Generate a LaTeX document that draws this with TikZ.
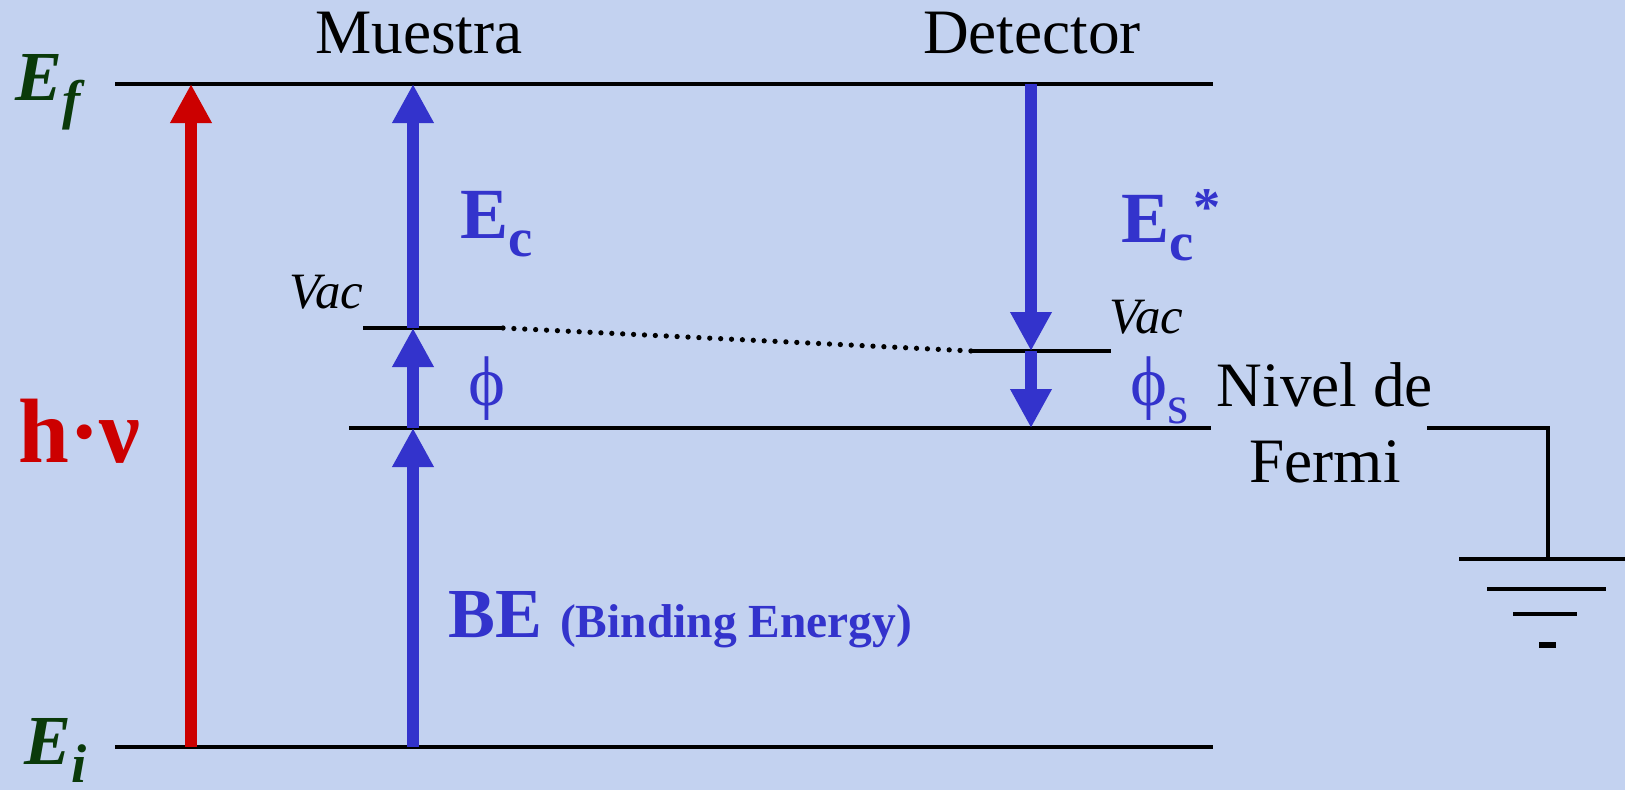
\documentclass[tikz,border=0pt]{standalone}
\usepackage{fontspec}
\setmainfont{Liberation Serif}
\usetikzlibrary{arrows.meta}
\definecolor{bgblue}{HTML}{C3D2F0}
\definecolor{arrblue}{HTML}{3333CC}
\definecolor{arrred}{HTML}{CC0000}
\definecolor{lvlgreen}{HTML}{0A3A0A}
\newcommand{\lowsub}[1]{\raisebox{-5.4pt}{\fontsize{15.5}{15.5}\selectfont #1}}

\begin{document}
\begin{tikzpicture}[
    level/.style={line width=1.3pt, black},
    earrow/.style={line width=3.6pt, arrblue},
    lbl/.style={inner sep=0pt, font=\fontsize{18}{21.5}\selectfont},
    elbl/.style={inner sep=0pt, text=lvlgreen, font=\fontsize{20}{24}\selectfont\bfseries\itshape},
    blbl/.style={inner sep=0pt, text=arrblue},
    >={Triangle[length=3.9mm, width=3.9mm]}
]

\pgfmathsetmacro{\yEf}{7.06}
\pgfmathsetmacro{\yEi}{0.43}
\pgfmathsetmacro{\yFermi}{3.62}
\pgfmathsetmacro{\yVacS}{4.62}
\pgfmathsetmacro{\yVacD}{4.39}
\pgfmathsetmacro{\xS}{4.13}
\pgfmathsetmacro{\xD}{10.31}
\pgfmathsetmacro{\xH}{1.91}

% Background
\fill[bgblue] (0,0) rectangle (16.25,7.90);
\useasboundingbox (0,0) rectangle (16.25,7.90);

% Levels
\coordinate (EfL) at (1.15,\yEf);
\coordinate (EfR) at (12.13,\yEf);
\coordinate (EiL) at (1.15,\yEi);
\coordinate (EiR) at (12.13,\yEi);
\coordinate (FermiL) at (3.49,\yFermi);
\coordinate (FermiR) at (12.11,\yFermi);
\coordinate (VacSL) at (3.63,\yVacS);
\coordinate (VacSR) at (5.03,\yVacS);
\coordinate (VacDL) at (9.72,\yVacD);
\coordinate (VacDR) at (11.11,\yVacD);
\draw[level] (EfL) -- (EfR);
\draw[level] (EiL) -- (EiR);
\draw[level] (FermiL) -- (FermiR);
\draw[level] (VacSL) -- (VacSR);
\draw[level] (VacDL) -- (VacDR);
\draw[line width=1.5pt, dash pattern=on 0pt off 3.1pt, line cap=round] (VacSR) -- (VacDL);

% Ground
\coordinate (GndTop) at (15.48,\yFermi);
\coordinate (GndBot) at (15.48,2.31);
\draw[level] (14.27,\yFermi) -- (GndTop) -- (GndBot);
\draw[level] (14.59,2.31) -- (16.25,2.31);
\draw[level] (14.87,2.01) -- (16.06,2.01);
\draw[level] (15.13,1.76) -- (15.77,1.76);
\draw[line width=1.8pt] (15.39,1.45) -- (15.56,1.45);

% Photon
\coordinate (hEi) at (\xH,\yEi);
\coordinate (hEf) at (\xH,\yEf);
\draw[->, line width=3.3pt, arrred] (hEi) -- (hEf);

% Sample
\coordinate (sEi) at (\xS,\yEi);
\coordinate (sFermi) at (\xS,\yFermi);
\coordinate (sVac) at (\xS,\yVacS);
\coordinate (sEf) at (\xS,\yEf);
\draw[->, earrow] (sEi) -- (sFermi);
\draw[->, earrow] (sFermi) -- (sVac);
\draw[->, earrow] (sVac) -- (sEf);

% Detector
\coordinate (dEf) at (\xD,\yEf);
\coordinate (dVac) at (\xD,\yVacD);
\coordinate (dFermi) at (\xD,\yFermi);
\draw[->, earrow] (dEf) -- (dVac);
\draw[->, earrow] (dVac) -- (dFermi);

% Labels
\node[lbl, anchor=base] (muestra) at (4.19,7.37) {Muestra};
\node[lbl, anchor=base] (detector) at (10.32,7.37) {Detector};
\node[lbl, align=center, anchor=north] (fermi) at (13.25,4.28) {Nivel de\\Fermi};
\node[elbl, anchor=base west] (ef) at (0.15,6.90) {E\lowsub{f}};
\node[elbl, anchor=base west] (ei) at (0.24,0.26) {E\lowsub{i}};
\node[inner sep=0pt, anchor=base west, text=arrred, font=\fontsize{26}{30}\selectfont\bfseries] (hnu) at (0.18,3.28) {h·ν};
\node[blbl, anchor=base west, font=\fontsize{20.5}{24}\selectfont\bfseries] (ec) at (4.60,5.52) {E\lowsub{c}};
\node[blbl, anchor=base west, font=\fontsize{20.5}{24}\selectfont\bfseries] (ecs) at (11.21,5.48) {E\lowsub{c}\raisebox{4.8pt}{\fontsize{15.5}{15.5}\selectfont *}};
\node[inner sep=0pt, anchor=base east, font=\fontsize{14.5}{17}\selectfont\itshape] (vacs) at (3.64,4.82) {Vac};
\node[inner sep=0pt, anchor=base west, font=\fontsize{14.5}{17}\selectfont\itshape] (vacd) at (11.09,4.57) {Vac};
\node[blbl, anchor=base west, font=\fontsize{20}{24}\selectfont] (phi) at (4.68,3.85) {ϕ};
\node[blbl, anchor=base west, font=\fontsize{20}{24}\selectfont] (phis) at (11.30,3.85) {ϕ\lowsub{s}};
\node[blbl, anchor=base west, font=\fontsize{20}{24}\selectfont\bfseries] (be) at (4.48,1.53) {BE {\fontsize{13.5}{16}\selectfont (Binding Energy)}};

\end{tikzpicture}
\end{document}
